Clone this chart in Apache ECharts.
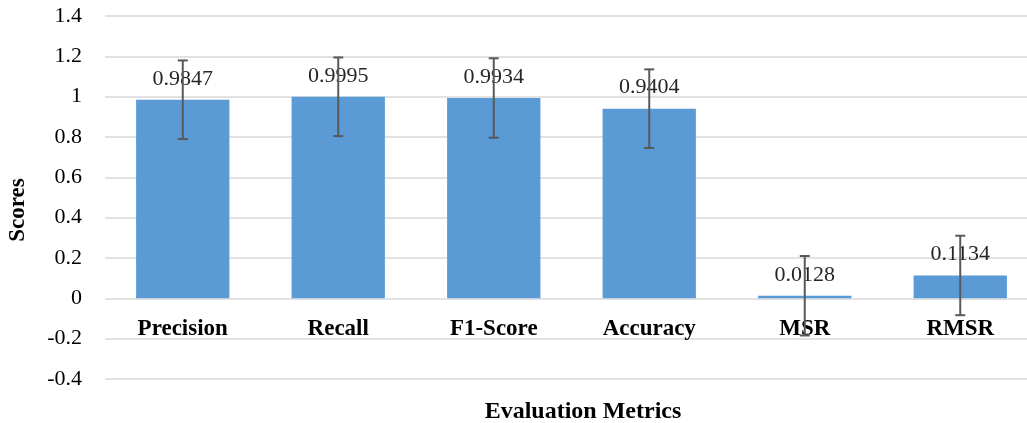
<!DOCTYPE html>
<html>
<head>
<meta charset="utf-8">
<script src="https://cdn.jsdelivr.net/npm/echarts@6/dist/echarts.min.js"></script>
<style>
  html, body { margin: 0; padding: 0; background: #fff; }
  #chart { width: 1027px; height: 423px; }
</style>
</head>
<body>
<div id="chart"></div>
<script>
const metrics = ['Precision', 'Recall', 'F1-Score', 'Accuracy', 'MSR', 'RMSR'];
const scores = [0.9847, 0.9995, 0.9934, 0.9404, 0.0128, 0.1134];
const errors = [0.195, 0.195, 0.197, 0.195, 0.197, 0.197];

const serif = '"Times New Roman", "Liberation Serif", serif';
const chart = echarts.init(document.getElementById('chart'));

// error bars drawn through the library's coord system
const errorData = metrics.map((m, i) => [i, scores[i] - errors[i], scores[i] + errors[i]]);

const option = {
  animation: false,
  // the plot runs past the right edge of the picture, as in the original crop
  grid: { left: 105, right: -11, top: 16, bottom: 44, outerBoundsMode: 'none' },
  title: {
    text: 'Evaluation Metrics',
    left: 578,
    textAlign: 'center',
    top: 395,
    textStyle: { fontFamily: serif, fontSize: 24, fontWeight: 'bold', color: '#000' }
  },
  graphic: [{
    type: 'text',
    x: 18,
    y: 210,
    rotation: Math.PI / 2,
    style: {
      text: 'Scores',
      align: 'center',
      verticalAlign: 'middle',
      font: 'bold 23px ' + serif,
      fill: '#000'
    }
  }],
  xAxis: {
    type: 'category',
    data: metrics,
    axisLine: { show: false },
    axisTick: { show: false },
    axisLabel: {
      // labels sit just under the zero line
      margin: -61,
      fontFamily: serif,
      fontSize: 23,
      fontWeight: 'bold',
      color: '#000'
    }
  },
  yAxis: {
    type: 'value',
    min: -0.4,
    max: 1.4,
    interval: 0.2,
    axisLabel: {
      margin: 23,
      fontFamily: serif,
      fontSize: 22,
      color: '#000',
      formatter: v => String(Math.round(v * 10) / 10)
    },
    splitLine: { lineStyle: { color: '#d9d9d9', width: 1.5 } }
  },
  series: [
    {
      type: 'bar',
      data: scores,
      barWidth: '60%',
      itemStyle: { color: '#5b9bd5' },
      label: {
        show: true,
        position: 'top',
        distance: 10,
        fontFamily: serif,
        fontSize: 22,
        color: '#262626',
        formatter: p => p.value.toFixed(4)
      },
      z: 2
    },
    {
      type: 'custom',
      data: errorData,
      z: 10,
      renderItem: (params, api) => {
        const x = api.value(0);
        const lo = api.coord([x, api.value(1)]);
        const hi = api.coord([x, api.value(2)]);
        const cap = 5;
        const style = { stroke: '#595959', lineWidth: 2 };
        return {
          type: 'group',
          children: [
            { type: 'line', shape: { x1: hi[0], y1: hi[1], x2: lo[0], y2: lo[1] }, style },
            { type: 'line', shape: { x1: hi[0] - cap, y1: hi[1], x2: hi[0] + cap, y2: hi[1] }, style },
            { type: 'line', shape: { x1: lo[0] - cap, y1: lo[1], x2: lo[0] + cap, y2: lo[1] }, style }
          ]
        };
      }
    }
  ]
};

chart.setOption(option);
</script>
</body>
</html>
